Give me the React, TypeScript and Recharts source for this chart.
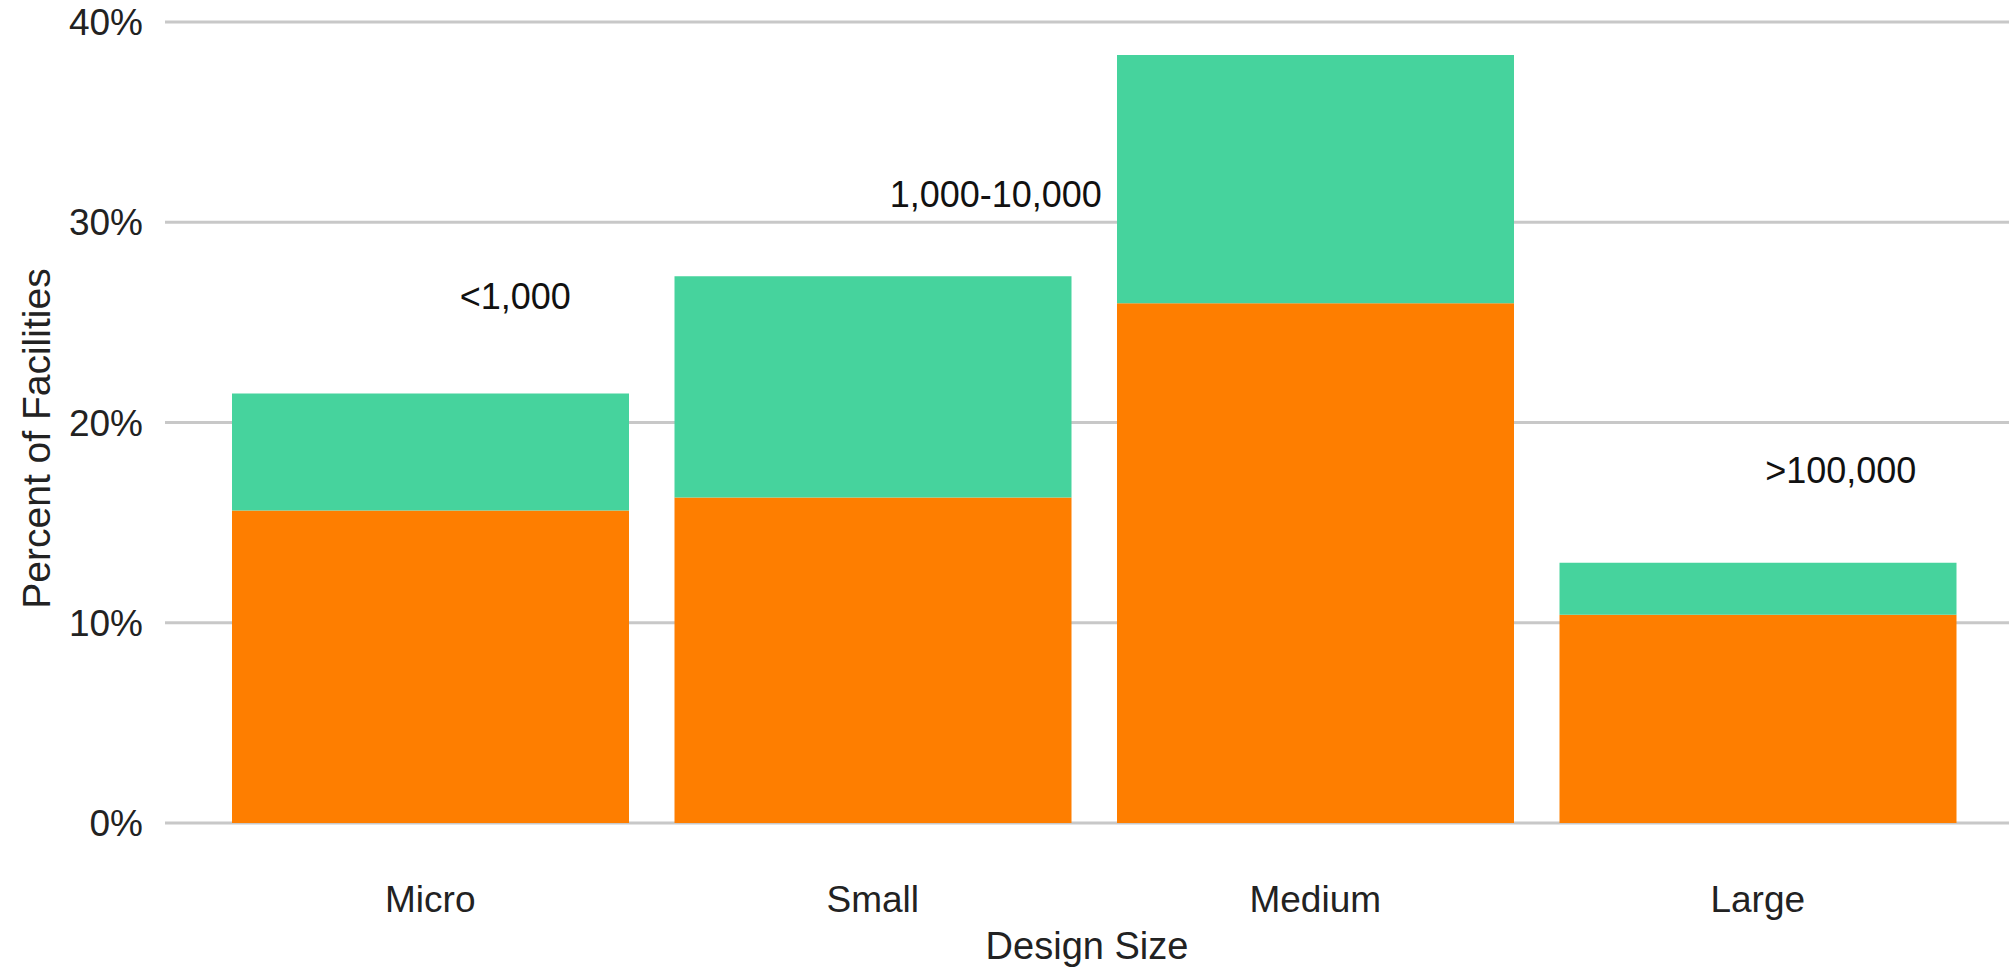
import React from "react";
import {
  BarChart, Bar, XAxis, YAxis, CartesianGrid, ReferenceDot, Label,
} from "recharts";

const categories = ["Micro", "Small", "Medium", "Large"];
const baseShare = [15.6, 16.25, 25.95, 10.4];
const topShare = [5.85, 11.05, 12.4, 2.6];
const yTicks = [0, 10, 20, 30, 40];

const notes = [
  { category: "Micro", text: "<1,000", level: 26.3 },
  { category: "Small", text: "1,000-10,000", level: 31.4 },
  { category: "Large", text: ">100,000", level: 17.6 },
];
const noteShift: Record<string, number> = { Micro: 85, Small: 123, Large: 83 };

const ORANGE = "#FE7E00";
const GREEN = "#46D39D";
const FONT = "'Liberation Sans', Arial, sans-serif";

const data = categories.map((name, i) => ({
  name,
  base: baseShare[i],
  top: topShare[i],
}));

const tickStyle = { fill: "#222", fontSize: 37, fontFamily: FONT };

export default function App() {
  return (
    <div style={{ position: "absolute", left: 0, top: 0, background: "#fff" }}>
      <BarChart
        width={2009}
        height={967}
        data={data}
        margin={{ top: 22, right: 0, left: 0, bottom: 0 }}
        barCategoryGap={23}
      >
        <CartesianGrid vertical={false} stroke="#c8c8c8" strokeWidth={3} />
        <XAxis
          dataKey="name"
          height={144}
          axisLine={false}
          tickLine={false}
          tickMargin={57}
          padding={{ left: 44, right: 30 }}
          tick={tickStyle}
        >
          <Label
            value="Design Size"
            position="insideBottom"
            offset={8}
            style={{ fill: "#222", fontSize: 38, fontFamily: FONT }}
          />
        </XAxis>
        <YAxis
          width={165}
          domain={[0, 40]}
          ticks={yTicks}
          axisLine={false}
          tickLine={false}
          tickMargin={16}
          tickFormatter={(v: number) => `${v}%`}
          tick={tickStyle}
        >
          <Label
            content={({ viewBox }: any) => {
              const cx = 36;
              const cy = viewBox.y + viewBox.height / 2 + 16;
              return (
                <text
                  x={cx}
                  y={cy}
                  transform={`rotate(-90, ${cx}, ${cy})`}
                  textAnchor="middle"
                  dominantBaseline="central"
                  fill="#222"
                  fontSize={39}
                  fontFamily={FONT}
                >
                  Percent of Facilities
                </text>
              );
            }}
          />
        </YAxis>
        <Bar dataKey="base" stackId="s" fill={ORANGE} isAnimationActive={false} />
        <Bar dataKey="top" stackId="s" fill={GREEN} isAnimationActive={false} />
        {notes.map((n) => (
          <ReferenceDot
            key={n.text}
            x={n.category}
            y={n.level}
            r={1}
            fill="none"
            stroke="none"
            ifOverflow="visible"
            label={{
              content: ({ viewBox }: any) => (
                <text
                  x={viewBox.x + viewBox.width / 2 + noteShift[n.category]}
                  y={viewBox.y + viewBox.height / 2}
                  textAnchor="middle"
                  dominantBaseline="central"
                  fill="#111"
                  fontSize={36}
                  fontFamily={FONT}
                >
                  {n.text}
                </text>
              ),
            }}
          />
        ))}
      </BarChart>
    </div>
  );
}
